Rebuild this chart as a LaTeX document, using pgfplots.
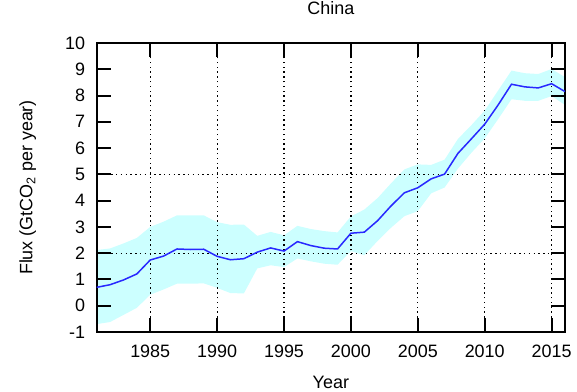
\documentclass[border=0pt]{standalone}
\usepackage{fontspec}
\setmainfont{Liberation Sans}
\usepackage{pgfplots}
\pgfplotsset{compat=1.18}
\usepackage{pgfplotstable}
\usepgfplotslibrary{fillbetween}

\definecolor{bandcyan}{RGB}{204,255,255}
\definecolor{lineblue}{RGB}{40,40,255}

% China: flux estimate (mid) with its uncertainty range (lo--up)
\pgfplotstableread{
year mid  up   lo
1981 0.70 2.12 -0.70
1982 0.80 2.18 -0.62
1983 0.98 2.37 -0.35
1984 1.21 2.58 -0.08
1985 1.74 3.00 0.42
1986 1.89 3.20 0.62
1987 2.16 3.44 0.84
1988 2.14 3.44 0.84
1989 2.15 3.44 0.85
1990 1.88 3.18 0.68
1991 1.75 3.08 0.48
1992 1.79 3.09 0.47
1993 2.04 2.66 1.42
1994 2.20 2.81 1.54
1995 2.08 2.68 1.47
1996 2.44 3.04 1.80
1997 2.29 2.92 1.69
1998 2.19 2.84 1.60
1999 2.16 2.79 1.56
2000 2.76 3.40 2.08
2001 2.80 3.66 1.92
2002 3.24 4.10 2.47
2003 3.80 4.66 2.97
2004 4.30 5.19 3.41
2005 4.49 5.38 3.60
2006 4.83 5.36 4.28
2007 5.01 5.56 4.50
2008 5.80 6.35 5.22
2009 6.35 6.87 5.82
2010 6.91 7.43 6.37
2011 7.64 8.19 7.10
2012 8.43 8.95 7.86
2013 8.33 8.85 7.80
2014 8.29 8.82 7.80
2015 8.45 9.01 7.98
2016 8.15 8.70 7.64
}\chinaflux

\begin{document}
\begin{tikzpicture}
\begin{axis}[
  name=ax,
  set layers,
  scale only axis,
  width=468.3bp, height=289bp,
  xmin=1981, xmax=2016,
  ymin=-1, ymax=10,
  xtick={1985,1990,...,2015},
  ytick={-1,0,...,10},
  /pgf/number format/assume math mode=true,
  /pgf/number format/1000 sep={},
  tick align=inside,
  tick pos=both,
  major tick length=14bp,
  tick style={black, solid, line width=2bp},
  axis line style={black, solid, line width=2.2bp},
  xmajorgrids=true,
  extra y ticks={2,5},
  extra y tick labels={},
  extra y tick style={ymajorgrids=true},
  major grid style={black, line width=1.2bp, dash pattern=on 1.4bp off 3.4bp},
  tick label style={font=\fontsize{18}{20}\selectfont},
  xticklabel style={inner sep=0pt, anchor=north, yshift=-13bp},
  yticklabel style={inner sep=0pt, anchor=east, xshift=-11.5bp},
  title={China},
  title style={font=\fontsize{18}{20}\selectfont, inner sep=0pt,
    at={(axis description cs:0.5,1)}, anchor=base, yshift=23bp},
  xlabel={Year},
  xlabel style={font=\fontsize{18}{20}\selectfont, inner sep=0pt,
    at={(axis description cs:0.5,0)}, anchor=base, yshift=-56bp},
  ylabel={Flux (GtCO\textsubscript{2} per year)},
  ylabel style={font=\fontsize{18}{20}\selectfont, inner sep=0pt,
    at={(axis description cs:-0.147,0.5)}, anchor=center, rotate=0},
]
  \addplot[draw=none, name path=upper] table[x=year, y=up] {\chinaflux};
  \addplot[draw=none, name path=lower] table[x=year, y=lo] {\chinaflux};
  \addplot[fill=bandcyan, draw=none]
    fill between[of=upper and lower, on layer=axis background];
  \addplot[lineblue, solid, line width=1.5bp] table[x=year, y=mid] {\chinaflux};
\end{axis}
\pgfresetboundingbox
\path[use as bounding box]
  ([xshift=-96.7bp, yshift=-60bp]ax.south west)
  rectangle ([xshift=12bp, yshift=43bp]ax.north east);
\end{tikzpicture}
\end{document}
